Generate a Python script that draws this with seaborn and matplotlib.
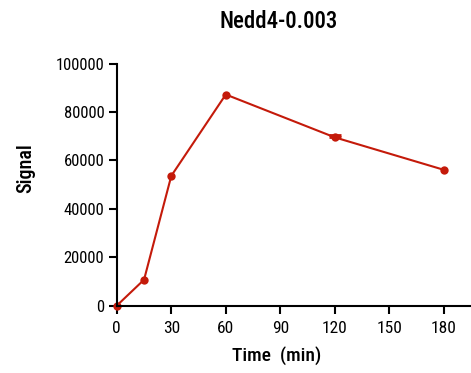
import matplotlib
matplotlib.use("Agg")
import matplotlib.pyplot as plt
import seaborn as sns
import pandas as pd

time_min = [0, 15, 30, 60, 120, 180]
signal = [0, 10700, 53600, 87200, 69500, 56100]
err_upper = [0, 0, 0, 0, 1100, 0]
x_ticks = [0, 30, 60, 90, 120, 150, 180]
y_ticks = [0, 20000, 40000, 60000, 80000, 100000]

sns.set_style("ticks")
plt.rcParams['font.family'] = ['Roboto Condensed', 'DejaVu Sans']
plt.rcParams['text.color'] = 'black'

red = "#C41A0A"
fig = plt.figure(figsize=(4.71, 3.73), dpi=100)
ax = fig.add_axes([0.248, 0.1807, 0.752, 0.649])

df = pd.DataFrame({"Time": time_min, "Signal": signal})
sns.lineplot(data=df, x="Time", y="Signal", ax=ax, color=red, linewidth=1.5,
             marker="o", markersize=6, markeredgewidth=0)
ex = [t for t, e in zip(time_min, err_upper) if e > 0]
ey = [s for s, e in zip(signal, err_upper) if e > 0]
ee = [e for e in err_upper if e > 0]
ax.errorbar(ex, ey, yerr=[[0]*len(ee), ee], fmt="none",
            ecolor=red, elinewidth=1.5, capsize=4, capthick=2)

ax.set_xlim(0, 195)
ax.set_ylim(0, 100000)
ax.set_xticks(x_ticks)
ax.set_yticks(y_ticks)
ax.set_xticklabels([str(t) for t in x_ticks], fontsize=12.5)
ax.set_yticklabels([str(t) for t in y_ticks], fontsize=12)
ax.tick_params(axis="both", direction="out", length=6, width=1.5, colors="black",
               labelcolor="black")
ax.tick_params(axis="x", pad=5)
ax.tick_params(axis="y", pad=3)
for s in ["top", "right"]:
    ax.spines[s].set_visible(False)
for s in ["left", "bottom"]:
    ax.spines[s].set_linewidth(1.5)
    ax.spines[s].set_color("black")
ax.set_xlabel("")
ax.set_ylabel("")
for ln in ax.lines:
    ln.set_clip_on(False)

fig.text(279/471, 1 - 21/373, "Nedd4-0.003", ha="center", va="center",
         fontsize=16.5, fontweight="medium")
fig.text(277/471, 1 - 356/373, "Time  (min)", ha="center", va="center",
         fontsize=14, fontweight="medium")
fig.text(26/471, 1 - 168/373, "Signal", ha="center", va="center", rotation=90,
         fontsize=14.5, fontweight="medium")

fig.savefig("out.png", dpi=100)
